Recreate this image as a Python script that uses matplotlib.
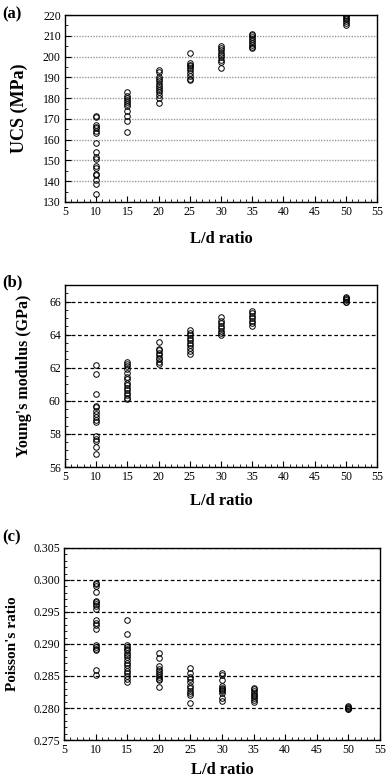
import matplotlib
matplotlib.use('Agg')
import matplotlib.pyplot as plt
from matplotlib.ticker import MultipleLocator, FormatStrFormatter

plt.rcParams['font.family'] = ['Liberation Serif', 'DejaVu Serif']

ld = [10, 15, 20, 25, 30, 35, 50]

# UCS (MPa) per L/d
ucs = {
    10: [171.5, 170.7, 167.2, 166.2, 165.4, 164.1, 163.0, 158.3, 154.2, 151.6,
         150.8, 147.1, 146.2, 143.5, 143.0, 140.7, 138.6, 133.8],
    15: [183.0, 181.1, 180.1, 179.0, 178.0, 177.1, 176.1, 173.7, 171.3, 169.1, 163.8],
    20: [193.3, 192.8, 190.2, 189.1, 188.1, 187.0, 186.0, 185.1, 184.1, 183.0,
         181.7, 180.0, 177.6],
    25: [201.7, 196.8, 196.1, 195.3, 194.4, 193.4, 192.1, 190.7, 189.3, 188.5],
    30: [205.1, 204.2, 203.0, 201.9, 200.9, 199.8, 198.5, 197.6, 194.7],
    35: [211.0, 210.2, 209.4, 208.5, 207.7, 206.7, 205.8, 204.6, 204.2],
    50: [220.2, 219.5, 218.7, 217.9, 217.1, 216.2, 215.0],
}

# Young's modulus (GPa) per L/d
young = {
    10: [62.15, 61.65, 60.4, 59.7, 59.6, 59.4, 59.2, 59.0, 58.85, 58.7,
         57.85, 57.7, 57.55, 57.2, 56.8],
    15: [62.35, 62.23, 62.1, 61.9, 61.7, 61.45, 61.3, 61.1, 60.95, 60.8,
         60.65, 60.5, 60.35, 60.2, 60.1],
    20: [63.53, 63.15, 63.05, 62.9, 62.75, 62.6, 62.5, 62.35, 62.25],
    25: [64.3, 64.1, 63.95, 63.8, 63.65, 63.5, 63.35, 63.2, 63.0, 62.8],
    30: [65.05, 64.85, 64.7, 64.55, 64.4, 64.25, 64.1, 63.95],
    35: [65.45, 65.3, 65.15, 65.0, 64.85, 64.7, 64.55],
    50: [66.3, 66.2, 66.1, 66.0, 65.95, 66.15],
}

# Poisson's ratio per L/d
poisson = {
    10: [0.2996, 0.2994, 0.2991, 0.2981, 0.2967, 0.2965, 0.2962, 0.2959, 0.2954,
         0.2938, 0.2933, 0.2929, 0.2923, 0.2898, 0.2895, 0.2892, 0.2890, 0.2860, 0.2852],
    15: [0.2938, 0.2916, 0.2898, 0.2895, 0.2892, 0.2890, 0.2886, 0.2883, 0.2879,
         0.2875, 0.2871, 0.2867, 0.2863, 0.2858, 0.2854, 0.2850, 0.2846, 0.2841],
    20: [0.2886, 0.2878, 0.2865, 0.2861, 0.2858, 0.2855, 0.2852, 0.2849, 0.2846,
         0.2843, 0.2833],
    25: [0.2862, 0.2854, 0.2849, 0.2845, 0.2840, 0.2835, 0.2831, 0.2827, 0.2823,
         0.2820, 0.2808],
    30: [0.2855, 0.2851, 0.2843, 0.2835, 0.2832, 0.2830, 0.2828, 0.2826, 0.2824,
         0.2815, 0.2811],
    35: [0.2832, 0.2829, 0.2826, 0.2823, 0.2820, 0.2818, 0.2815, 0.2812, 0.2810],
    50: [0.2803, 0.2801, 0.2800, 0.2799, 0.2798],
}

fig = plt.figure(figsize=(3.88, 7.84), dpi=100)

dotted = dict(color='#999999', linestyle=(0, (1, 1)), lw=1.0)
dashed = dict(color='black', linestyle=(0, (3, 2)), lw=0.9)

panels = [
    # data, rect, ylim, major, minor, fmt, ylabel, ylabel size, ylabel right edge px,
    # xlabel pad, tag, tag y px, grid style
    (ucs, [65/388, 1-202/784, 312/388, 187/784], (130, 220), 10, 5, '%d',
     'UCS (MPa)', 13, 28, 9, '(a)', 14, dotted),
    (young, [65/388, 1-467/784, 312/388, 182/784], (56, 67), 2, 0.5, '%d',
     "Young's modulus (GPa)", 11.5, 32, 7, '(b)', 282, dashed),
    (poisson, [64/388, 1-740/784, 316/388, 192/784], (0.275, 0.305), 0.005, 0.001, '%.3f',
     "Poisson's ratio", 11, 19, 4, '(c)', 537, dashed),
]

for (data, rect, ylim, major, minor, fmt, ylabel, ysize, ylx, xpad,
     tag, tag_y, gstyle) in panels:
    ax = fig.add_axes(rect)
    for x in ld:
        vals = data[x]
        ax.plot([x] * len(vals), vals, 'o', mfc='none', mec='black',
                ms=4, mew=0.7, zorder=3)
    ax.set_xlim(5, 55)
    ax.set_ylim(*ylim)
    ax.xaxis.set_major_locator(MultipleLocator(5))
    ax.xaxis.set_minor_locator(MultipleLocator(1))
    ax.yaxis.set_major_locator(MultipleLocator(major))
    ax.yaxis.set_minor_locator(MultipleLocator(minor))
    ax.yaxis.set_major_formatter(FormatStrFormatter(fmt))
    ax.grid(True, axis='y', which='major', zorder=0, **gstyle)
    ax.tick_params(which='major', direction='in', length=4, width=0.8,
                   labelsize=8.5, pad=3)
    ax.tick_params(which='minor', direction='in', length=2, width=0.6)
    for s in ax.spines.values():
        s.set_linewidth(1.0)
    ax.set_xlabel('L/d ratio', fontsize=12, fontweight='bold', labelpad=xpad)
    ax.set_ylabel(ylabel, fontsize=ysize, fontweight='bold')
    ax.yaxis.set_label_coords((ylx - rect[0] * 388) / (rect[2] * 388), 0.5)
    fig.text(2/388, 1 - tag_y / 784, tag, fontsize=12, fontweight='bold',
             ha='left', va='center')

fig.savefig('out.png', dpi=100)
